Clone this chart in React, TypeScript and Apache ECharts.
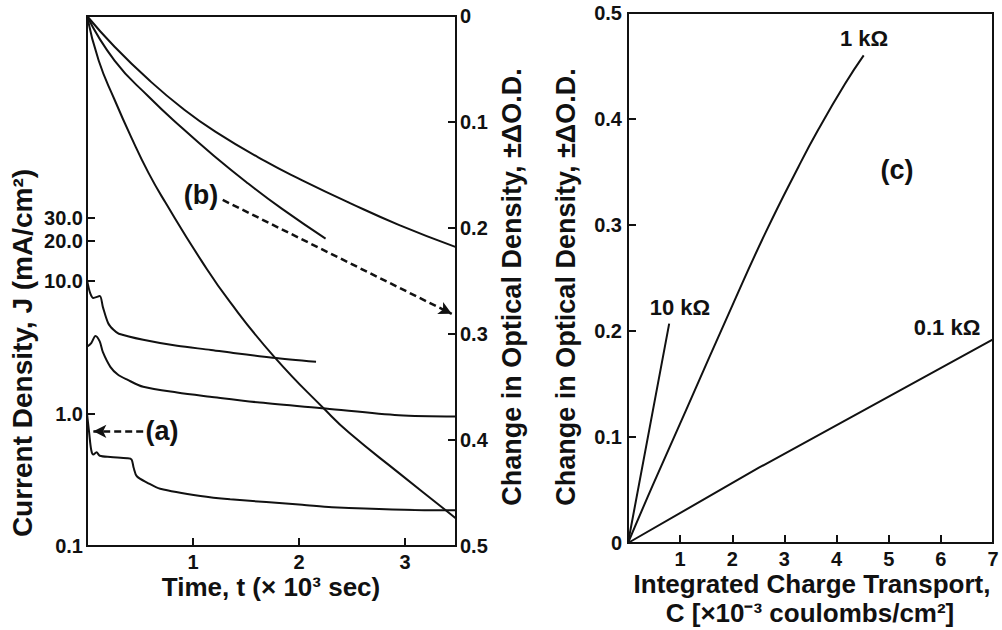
import React, { useEffect, useRef } from 'react';
import * as echarts from 'echarts';

const FONT = "'Liberation Sans', Arial, Helvetica, sans-serif";
const INK = '#111111';

// ---------- Left panel: current density J (mA/cm²), log scale ----------
const jTimeA = [0, 0.03, 0.06, 0.12, 0.15, 0.2, 0.25, 0.3, 0.53, 0.85, 1.17, 1.4, 1.75, 2.16];
const jValueA = [10.2, 8.1, 7.45, 7.7, 6.35, 4.8, 4.28, 4.0, 3.6, 3.24, 3.02, 2.85, 2.64, 2.46];

const jTimeB = [0, 0.04, 0.08, 0.12, 0.15, 0.22, 0.29, 0.38, 0.53, 0.85, 1.16, 1.63, 2.25, 2.94, 3.48];
const jValueB = [3.19, 3.4, 3.85, 3.5, 2.9, 2.25, 1.97, 1.8, 1.59, 1.44, 1.34, 1.21, 1.09, 0.97, 0.95];

const jTimeC = [0, 0.02, 0.04, 0.06, 0.09, 0.12, 0.22, 0.38, 0.42, 0.44, 0.47, 0.57, 0.69, 1.07, 1.35, 2.03, 2.31, 3.26, 3.48];
const jValueC = [1.0, 0.72, 0.53, 0.49, 0.51, 0.48, 0.47, 0.46, 0.45, 0.39, 0.336, 0.3, 0.27, 0.238, 0.225, 0.205, 0.196, 0.186, 0.186];

// ---------- Left panel: change in optical density (right axis, inverted) ----------
const odTime1 = [0, 0.26, 0.58, 0.9, 1.21, 1.68, 2.03, 2.47, 2.94, 3.48];
const odValue1 = [0, 0.029, 0.06, 0.087, 0.109, 0.137, 0.155, 0.176, 0.197, 0.218];

const odTime2 = [0, 0.26, 0.58, 0.9, 1.21, 1.52, 1.84, 2.25];
const odValue2 = [0, 0.042, 0.076, 0.106, 0.133, 0.158, 0.182, 0.21];

const odTime3 = [0, 0.11, 0.26, 0.42, 0.58, 0.74, 1.08, 1.35, 1.77, 2.25, 2.47, 2.94, 3.38, 3.48];
const odValue3 = [0, 0.042, 0.079, 0.115, 0.148, 0.176, 0.231, 0.27, 0.322, 0.372, 0.393, 0.431, 0.466, 0.474];

// ---------- Right panel: ΔO.D. vs integrated charge ----------
const charge10k = [0, 0.42, 0.79];
const od10k = [0, 0.11, 0.207];
const charge1k = [0, 0.48, 1.12, 2.0, 2.64, 3.27, 3.65, 4.16, 4.52];
const od1k = [0, 0.055, 0.126, 0.224, 0.293, 0.355, 0.39, 0.433, 0.46];
const charge01k = [0, 2.51, 7];
const od01k = [0, 0.071, 0.192];

// ---------- Ticks ----------
const timeTicks = [1, 2, 3];
const jTicks = [0.1, 1.0, 10.0, 20.0, 30.0];
const chargeTicks = [1, 2, 3, 4, 5, 6, 7];

// annotation arrows (data coordinates)
const arrowA = { from: [0.53, 0.733], to: [0.06, 0.733] }; // time, J
const arrowB = { from: [1.28, 0.1735], to: [3.44, 0.281] }; // time, ΔO.D.

const lg = (v: number) => Math.round(Math.log10(v) * 1e6) / 1e6;
const pairs = (xs: number[], ys: number[], f?: (v: number) => number) =>
  xs.map((x, i) => [x, f ? f(ys[i]) : ys[i]]);

const labelStyle = { fontSize: 20, fontWeight: 'bold' as const, color: INK, fontFamily: FONT };
const axisLine = { show: true, onZero: false, lineStyle: { color: INK, width: 2 } };
const lineStyle = { color: INK, width: 2 };

const curve = (name: string, data: number[][], xi: number, yi: number, smooth: number, extra: any = {}) => ({
  name,
  type: 'line',
  xAxisIndex: xi,
  yAxisIndex: yi,
  data,
  smooth,
  showSymbol: false,
  symbol: 'none',
  silent: true,
  lineStyle,
  ...extra,
});

const arrowMark = (from: number[], to: number[]) => ({
  silent: true,
  symbol: ['none', 'arrow'],
  symbolSize: [10, 13],
  label: { show: false },
  lineStyle: { color: INK, width: 2.5, type: [7, 4] },
  emphasis: { disabled: true },
  data: [[{ coord: from }, { coord: to }]],
});

const titleText = (text: string, x: number, y: number, rotate = false, size = 26) => ({
  type: 'text',
  x,
  y,
  rotation: rotate ? Math.PI / 2 : 0,
  silent: true,
  style: {
    text,
    fontSize: size,
    fontWeight: 'bold',
    fontFamily: FONT,
    fill: INK,
    align: 'center',
    verticalAlign: 'middle',
  },
});

export default function App() {
  const ref = useRef<HTMLDivElement>(null);

  useEffect(() => {
    const chart = echarts.init(ref.current!, null, { renderer: 'svg' });
    const option: any = {
      animation: false,
      backgroundColor: '#ffffff',
      grid: [
        { left: 87, top: 16, width: 369, height: 530, show: true, borderColor: INK, borderWidth: 2 },
        { left: 628, top: 13, width: 365, height: 530, show: true, borderColor: INK, borderWidth: 2 },
      ],
      xAxis: [
        {
          gridIndex: 0,
          type: 'value',
          min: 0,
          max: 3.48,
          axisLine,
          axisTick: { inside: true, length: 8, customValues: timeTicks, lineStyle: { color: INK, width: 2 } },
          axisLabel: { ...labelStyle, customValues: timeTicks, margin: 6 },
          splitLine: { show: false },
        },
        {
          gridIndex: 1,
          type: 'value',
          min: 0,
          max: 7,
          axisLine,
          axisTick: { inside: true, length: 8, customValues: chargeTicks, lineStyle: { color: INK, width: 2 } },
          axisLabel: { ...labelStyle, customValues: chargeTicks, margin: 6 },
          splitLine: { show: false },
        },
      ],
      yAxis: [
        {
          gridIndex: 0,
          type: 'value',
          position: 'left',
          min: -1,
          max: 3,
          axisLine,
          axisTick: { inside: true, length: 8, customValues: jTicks.map(lg), lineStyle: { color: INK, width: 2 } },
          axisLabel: {
            ...labelStyle,
            margin: 4,
            customValues: jTicks.map(lg),
            formatter: (v: number) => Math.pow(10, v).toFixed(1),
          },
          splitLine: { show: false },
        },
        {
          gridIndex: 0,
          type: 'value',
          position: 'right',
          inverse: true,
          min: 0,
          max: 0.5,
          interval: 0.1,
          axisLine,
          axisTick: { inside: true, length: 8, lineStyle: { color: INK, width: 2 } },
          axisLabel: { ...labelStyle, margin: 4, formatter: (v: number) => (v === 0 ? '0' : v.toFixed(1)) },
          splitLine: { show: false },
        },
        {
          gridIndex: 1,
          type: 'value',
          position: 'left',
          min: 0,
          max: 0.5,
          interval: 0.1,
          axisLine,
          axisTick: { inside: true, length: 8, lineStyle: { color: INK, width: 2 } },
          axisLabel: { ...labelStyle, margin: 6, formatter: (v: number) => (v === 0 ? '0' : v.toFixed(1)) },
          splitLine: { show: false },
        },
      ],
      series: [
        curve('J-A', pairs(jTimeA, jValueA, lg), 0, 0, 0.3),
        curve('J-B', pairs(jTimeB, jValueB, lg), 0, 0, 0.3),
        curve('J-C (a)', pairs(jTimeC, jValueC, lg), 0, 0, 0.3, {
          markLine: arrowMark([arrowA.from[0], lg(arrowA.from[1])], [arrowA.to[0], lg(arrowA.to[1])]),
        }),
        curve('OD-1', pairs(odTime1, odValue1), 0, 1, 0.5),
        curve('OD-2 (b)', pairs(odTime2, odValue2), 0, 1, 0.5, {
          markLine: arrowMark(arrowB.from, arrowB.to),
        }),
        curve('OD-3', pairs(odTime3, odValue3), 0, 1, 0.5),
        curve('10 kΩ', pairs(charge10k, od10k), 1, 2, 0),
        curve('1 kΩ', pairs(charge1k, od1k), 1, 2, 0.5),
        curve('0.1 kΩ', pairs(charge01k, od01k), 1, 2, 0),
      ],
      graphic: [
        titleText('Current Density, J (mA/cm²)', 22, 353, true, 28),
        titleText('Change in Optical Density, ±ΔO.D.', 512, 287, true, 27),
        titleText('Change in Optical Density, ±ΔO.D.', 566, 287, true, 27),
        titleText('Time, t (× 10³ sec)', 271, 587),
        titleText('Integrated Charge Transport,', 812, 584),
        titleText('C [×10⁻³ coulombs/cm²]', 810, 613),
        titleText('(a)', 162, 431, false, 27),
        titleText('(b)', 201, 195, false, 27),
        titleText('(c)', 897, 170, false, 27),
        titleText('10 kΩ', 680, 307, false, 22),
        titleText('1 kΩ', 864, 38, false, 22),
        titleText('0.1 kΩ', 947, 327, false, 22),
      ],
    };
    chart.setOption(option);
    return () => chart.dispose();
  }, []);

  return (
    <div
      ref={ref}
      style={{ position: 'absolute', left: 0, top: 0, width: 1002, height: 630, background: '#ffffff' }}
    />
  );
}
